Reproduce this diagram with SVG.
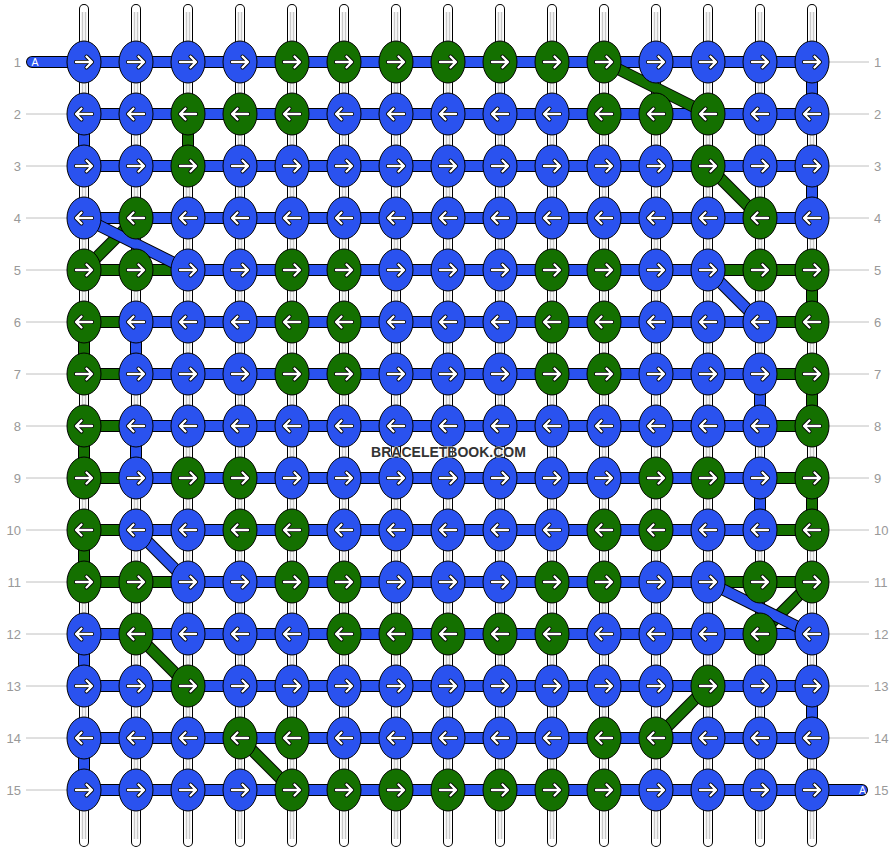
<svg xmlns="http://www.w3.org/2000/svg" width="896" height="852" viewBox="0 0 896 852">
<style>
.b{fill:#2a52ef}.g{fill:#147000}
.k{fill:none;stroke:#000;stroke-width:12}
.cb{fill:none;stroke:#2a52ef;stroke-width:10}
.cg{fill:none;stroke:#147000;stroke-width:10}
.lbl{font-family:"Liberation Sans",Arial,sans-serif;font-size:13px;fill:#999}
.gl{stroke:#c0c0c0;stroke-width:1;fill:none}
</style>
<defs>
<ellipse id="e" rx="17" ry="21" stroke="#000" stroke-width="1"/>
<g id="r" fill="none" stroke-linecap="round" stroke-linejoin="round"><path d="M-8,0H7.5M2.5,-5.5L8,0L2.5,5.5" stroke="#000" stroke-width="4"/><path d="M-8,0H7.5M2.5,-5.5L8,0L2.5,5.5" stroke="#fff" stroke-width="2.4"/></g>
<g id="l"><use href="#r" transform="scale(-1,1)"/></g>
</defs>
<rect width="896" height="852" fill="#fff"/>
<g id="connectors">
<path d="M84,9V842M136,9V842M188,9V842M240,9V842M292,9V842M344,9V842M396,9V842M448,9V842M500,9V842M552,9V842M604,9V842M656,9V842M708,9V842M760,9V842M812,9V842" fill="none" stroke="#000" stroke-width="10" stroke-linecap="round"/>
<path d="M84,9V842M136,9V842M188,9V842M240,9V842M292,9V842M344,9V842M396,9V842M448,9V842M500,9V842M552,9V842M604,9V842M656,9V842M708,9V842M760,9V842M812,9V842" fill="none" stroke="#fff" stroke-width="8" stroke-linecap="round"/>
<path d="M84,12V839M136,12V839M188,12V839M240,12V839M292,12V839M344,12V839M396,12V839M448,12V839M500,12V839M552,12V839M604,12V839M656,12V839M708,12V839M760,12V839M812,12V839" fill="none" stroke="#c8c8c8" stroke-width="4.5"/>
<path d="M84,12V839M136,12V839M188,12V839M240,12V839M292,12V839M344,12V839M396,12V839M448,12V839M500,12V839M552,12V839M604,12V839M656,12V839M708,12V839M760,12V839M812,12V839" fill="none" stroke="#fff" stroke-width="1.5"/>
<path class="k" d="M32,62H84M812,790H862" stroke-linecap="round"/>
<path class="cb" d="M32,62H84M812,790H862" stroke-linecap="round"/>
<path class="k" d="M84,62H812M84,114H812M84,166H812M84,218H812M84,270H812M84,322H812M84,374H812M84,426H812M84,478H812M84,530H812M84,582H812M84,634H812M84,686H812M84,738H812M84,790H812"/>
<path class="cb" d="M84,62H812M84,114H812M84,166H812M84,218H812M84,270H812M84,322H812M84,374H812M84,426H812M84,478H812M84,530H812M84,582H812M84,634H812M84,686H812M84,738H812M84,790H812"/>
<path class="cg" d="M84,270H188M708,270H812M84,322H136M760,322H812M84,374H136M760,374H812M84,426H136M760,426H812M84,478H136M760,478H812M84,530H136M760,530H812M84,582H188M708,582H812"/>
<path class="k" d="M84,114V166M812,62V114M812,166V218M136,322V374M136,426V478M760,374V426M760,478V530M84,634V686M812,686V738M84,738V790"/>
<path class="cb" d="M84,114V166M812,62V114M812,166V218M136,322V374M136,426V478M760,374V426M760,478V530M84,634V686M812,686V738M84,738V790"/>
<path class="k" d="M188,114V166M812,270V322M84,322V374M84,426V478M812,374V426M812,478V530M84,530V582"/>
<path class="cg" d="M188,114V166M812,270V322M84,322V374M84,426V478M812,374V426M812,478V530M84,530V582"/>
<path class="k" d="M604,62L708,114"/><path class="cg" d="M604,62L708,114"/>
<path class="k" d="M708,166L760,218"/><path class="cg" d="M708,166L760,218"/>
<path class="k" d="M136,218L84,270"/><path class="cg" d="M136,218L84,270"/>
<path class="k" d="M136,634L188,686"/><path class="cg" d="M136,634L188,686"/>
<path class="k" d="M812,582L760,634"/><path class="cg" d="M812,582L760,634"/>
<path class="k" d="M708,686L656,738"/><path class="cg" d="M708,686L656,738"/>
<path class="k" d="M240,738L292,790"/><path class="cg" d="M240,738L292,790"/>
<path class="k" d="M84,218L188,270"/><path class="cb" d="M84,218L188,270"/>
<path class="k" d="M708,270L760,322"/><path class="cb" d="M708,270L760,322"/>
<path class="k" d="M136,530L188,582"/><path class="cb" d="M136,530L188,582"/>
<path class="k" d="M708,582L812,634"/><path class="cb" d="M708,582L812,634"/>
</g>
<g id="labels">
<path class="gl" d="M26,114H67M26,166H67M26,218H67M26,270H67M26,322H67M26,374H67M26,426H67M26,478H67M26,530H67M26,582H67M26,634H67M26,686H67M26,738H67M26,790H67M829,62H869M829,114H869M829,166H869M829,218H869M829,270H869M829,322H869M829,374H869M829,426H869M829,478H869M829,530H869M829,582H869M829,634H869M829,686H869M829,738H869"/>
<g class="lbl" text-anchor="end">
<text x="21" y="66.5">1</text><text x="21" y="118.5">2</text><text x="21" y="170.5">3</text><text x="21" y="222.5">4</text><text x="21" y="274.5">5</text><text x="21" y="326.5">6</text><text x="21" y="378.5">7</text><text x="21" y="430.5">8</text><text x="21" y="482.5">9</text><text x="21" y="534.5">10</text><text x="21" y="586.5">11</text><text x="21" y="638.5">12</text><text x="21" y="690.5">13</text><text x="21" y="742.5">14</text><text x="21" y="794.5">15</text>
</g>
<g class="lbl" text-anchor="start">
<text x="874" y="66.5">1</text><text x="874" y="118.5">2</text><text x="874" y="170.5">3</text><text x="874" y="222.5">4</text><text x="874" y="274.5">5</text><text x="874" y="326.5">6</text><text x="874" y="378.5">7</text><text x="874" y="430.5">8</text><text x="874" y="482.5">9</text><text x="874" y="534.5">10</text><text x="874" y="586.5">11</text><text x="874" y="638.5">12</text><text x="874" y="690.5">13</text><text x="874" y="742.5">14</text><text x="874" y="794.5">15</text>
</g>
<text x="35" y="65.7" font-family="Liberation Sans,Arial,sans-serif" font-size="10.5" fill="#fff" text-anchor="middle">A</text>
<text x="862.5" y="794" font-family="Liberation Sans,Arial,sans-serif" font-size="10.5" fill="#fff" text-anchor="middle">A</text>
</g>
<g id="knots">
<g id="n1-1" class="b" transform="translate(84,62)"><use href="#e"/><use href="#r"/></g>
<g id="n1-2" class="b" transform="translate(136,62)"><use href="#e"/><use href="#r"/></g>
<g id="n1-3" class="b" transform="translate(188,62)"><use href="#e"/><use href="#r"/></g>
<g id="n1-4" class="b" transform="translate(240,62)"><use href="#e"/><use href="#r"/></g>
<g id="n1-5" class="g" transform="translate(292,62)"><use href="#e"/><use href="#r"/></g>
<g id="n1-6" class="g" transform="translate(344,62)"><use href="#e"/><use href="#r"/></g>
<g id="n1-7" class="g" transform="translate(396,62)"><use href="#e"/><use href="#r"/></g>
<g id="n1-8" class="g" transform="translate(448,62)"><use href="#e"/><use href="#r"/></g>
<g id="n1-9" class="g" transform="translate(500,62)"><use href="#e"/><use href="#r"/></g>
<g id="n1-10" class="g" transform="translate(552,62)"><use href="#e"/><use href="#r"/></g>
<g id="n1-11" class="g" transform="translate(604,62)"><use href="#e"/><use href="#r"/></g>
<g id="n1-12" class="b" transform="translate(656,62)"><use href="#e"/><use href="#r"/></g>
<g id="n1-13" class="b" transform="translate(708,62)"><use href="#e"/><use href="#r"/></g>
<g id="n1-14" class="b" transform="translate(760,62)"><use href="#e"/><use href="#r"/></g>
<g id="n1-15" class="b" transform="translate(812,62)"><use href="#e"/><use href="#r"/></g>
<g id="n2-1" class="b" transform="translate(84,114)"><use href="#e"/><use href="#l"/></g>
<g id="n2-2" class="b" transform="translate(136,114)"><use href="#e"/><use href="#l"/></g>
<g id="n2-3" class="g" transform="translate(188,114)"><use href="#e"/><use href="#l"/></g>
<g id="n2-4" class="g" transform="translate(240,114)"><use href="#e"/><use href="#l"/></g>
<g id="n2-5" class="g" transform="translate(292,114)"><use href="#e"/><use href="#l"/></g>
<g id="n2-6" class="b" transform="translate(344,114)"><use href="#e"/><use href="#l"/></g>
<g id="n2-7" class="b" transform="translate(396,114)"><use href="#e"/><use href="#l"/></g>
<g id="n2-8" class="b" transform="translate(448,114)"><use href="#e"/><use href="#l"/></g>
<g id="n2-9" class="b" transform="translate(500,114)"><use href="#e"/><use href="#l"/></g>
<g id="n2-10" class="b" transform="translate(552,114)"><use href="#e"/><use href="#l"/></g>
<g id="n2-11" class="g" transform="translate(604,114)"><use href="#e"/><use href="#l"/></g>
<g id="n2-12" class="g" transform="translate(656,114)"><use href="#e"/><use href="#l"/></g>
<g id="n2-13" class="g" transform="translate(708,114)"><use href="#e"/><use href="#l"/></g>
<g id="n2-14" class="b" transform="translate(760,114)"><use href="#e"/><use href="#l"/></g>
<g id="n2-15" class="b" transform="translate(812,114)"><use href="#e"/><use href="#l"/></g>
<g id="n3-1" class="b" transform="translate(84,166)"><use href="#e"/><use href="#r"/></g>
<g id="n3-2" class="b" transform="translate(136,166)"><use href="#e"/><use href="#r"/></g>
<g id="n3-3" class="g" transform="translate(188,166)"><use href="#e"/><use href="#r"/></g>
<g id="n3-4" class="b" transform="translate(240,166)"><use href="#e"/><use href="#r"/></g>
<g id="n3-5" class="b" transform="translate(292,166)"><use href="#e"/><use href="#r"/></g>
<g id="n3-6" class="b" transform="translate(344,166)"><use href="#e"/><use href="#r"/></g>
<g id="n3-7" class="b" transform="translate(396,166)"><use href="#e"/><use href="#r"/></g>
<g id="n3-8" class="b" transform="translate(448,166)"><use href="#e"/><use href="#r"/></g>
<g id="n3-9" class="b" transform="translate(500,166)"><use href="#e"/><use href="#r"/></g>
<g id="n3-10" class="b" transform="translate(552,166)"><use href="#e"/><use href="#r"/></g>
<g id="n3-11" class="b" transform="translate(604,166)"><use href="#e"/><use href="#r"/></g>
<g id="n3-12" class="b" transform="translate(656,166)"><use href="#e"/><use href="#r"/></g>
<g id="n3-13" class="g" transform="translate(708,166)"><use href="#e"/><use href="#r"/></g>
<g id="n3-14" class="b" transform="translate(760,166)"><use href="#e"/><use href="#r"/></g>
<g id="n3-15" class="b" transform="translate(812,166)"><use href="#e"/><use href="#r"/></g>
<g id="n4-1" class="b" transform="translate(84,218)"><use href="#e"/><use href="#l"/></g>
<g id="n4-2" class="g" transform="translate(136,218)"><use href="#e"/><use href="#l"/></g>
<g id="n4-3" class="b" transform="translate(188,218)"><use href="#e"/><use href="#l"/></g>
<g id="n4-4" class="b" transform="translate(240,218)"><use href="#e"/><use href="#l"/></g>
<g id="n4-5" class="b" transform="translate(292,218)"><use href="#e"/><use href="#l"/></g>
<g id="n4-6" class="b" transform="translate(344,218)"><use href="#e"/><use href="#l"/></g>
<g id="n4-7" class="b" transform="translate(396,218)"><use href="#e"/><use href="#l"/></g>
<g id="n4-8" class="b" transform="translate(448,218)"><use href="#e"/><use href="#l"/></g>
<g id="n4-9" class="b" transform="translate(500,218)"><use href="#e"/><use href="#l"/></g>
<g id="n4-10" class="b" transform="translate(552,218)"><use href="#e"/><use href="#l"/></g>
<g id="n4-11" class="b" transform="translate(604,218)"><use href="#e"/><use href="#l"/></g>
<g id="n4-12" class="b" transform="translate(656,218)"><use href="#e"/><use href="#l"/></g>
<g id="n4-13" class="b" transform="translate(708,218)"><use href="#e"/><use href="#l"/></g>
<g id="n4-14" class="g" transform="translate(760,218)"><use href="#e"/><use href="#l"/></g>
<g id="n4-15" class="b" transform="translate(812,218)"><use href="#e"/><use href="#l"/></g>
<g id="n5-1" class="g" transform="translate(84,270)"><use href="#e"/><use href="#r"/></g>
<g id="n5-2" class="g" transform="translate(136,270)"><use href="#e"/><use href="#r"/></g>
<g id="n5-3" class="b" transform="translate(188,270)"><use href="#e"/><use href="#r"/></g>
<g id="n5-4" class="b" transform="translate(240,270)"><use href="#e"/><use href="#r"/></g>
<g id="n5-5" class="g" transform="translate(292,270)"><use href="#e"/><use href="#r"/></g>
<g id="n5-6" class="g" transform="translate(344,270)"><use href="#e"/><use href="#r"/></g>
<g id="n5-7" class="b" transform="translate(396,270)"><use href="#e"/><use href="#r"/></g>
<g id="n5-8" class="b" transform="translate(448,270)"><use href="#e"/><use href="#r"/></g>
<g id="n5-9" class="b" transform="translate(500,270)"><use href="#e"/><use href="#r"/></g>
<g id="n5-10" class="g" transform="translate(552,270)"><use href="#e"/><use href="#r"/></g>
<g id="n5-11" class="g" transform="translate(604,270)"><use href="#e"/><use href="#r"/></g>
<g id="n5-12" class="b" transform="translate(656,270)"><use href="#e"/><use href="#r"/></g>
<g id="n5-13" class="b" transform="translate(708,270)"><use href="#e"/><use href="#r"/></g>
<g id="n5-14" class="g" transform="translate(760,270)"><use href="#e"/><use href="#r"/></g>
<g id="n5-15" class="g" transform="translate(812,270)"><use href="#e"/><use href="#r"/></g>
<g id="n6-1" class="g" transform="translate(84,322)"><use href="#e"/><use href="#l"/></g>
<g id="n6-2" class="b" transform="translate(136,322)"><use href="#e"/><use href="#l"/></g>
<g id="n6-3" class="b" transform="translate(188,322)"><use href="#e"/><use href="#l"/></g>
<g id="n6-4" class="b" transform="translate(240,322)"><use href="#e"/><use href="#l"/></g>
<g id="n6-5" class="g" transform="translate(292,322)"><use href="#e"/><use href="#l"/></g>
<g id="n6-6" class="g" transform="translate(344,322)"><use href="#e"/><use href="#l"/></g>
<g id="n6-7" class="b" transform="translate(396,322)"><use href="#e"/><use href="#l"/></g>
<g id="n6-8" class="b" transform="translate(448,322)"><use href="#e"/><use href="#l"/></g>
<g id="n6-9" class="b" transform="translate(500,322)"><use href="#e"/><use href="#l"/></g>
<g id="n6-10" class="g" transform="translate(552,322)"><use href="#e"/><use href="#l"/></g>
<g id="n6-11" class="g" transform="translate(604,322)"><use href="#e"/><use href="#l"/></g>
<g id="n6-12" class="b" transform="translate(656,322)"><use href="#e"/><use href="#l"/></g>
<g id="n6-13" class="b" transform="translate(708,322)"><use href="#e"/><use href="#l"/></g>
<g id="n6-14" class="b" transform="translate(760,322)"><use href="#e"/><use href="#l"/></g>
<g id="n6-15" class="g" transform="translate(812,322)"><use href="#e"/><use href="#l"/></g>
<g id="n7-1" class="g" transform="translate(84,374)"><use href="#e"/><use href="#r"/></g>
<g id="n7-2" class="b" transform="translate(136,374)"><use href="#e"/><use href="#r"/></g>
<g id="n7-3" class="b" transform="translate(188,374)"><use href="#e"/><use href="#r"/></g>
<g id="n7-4" class="b" transform="translate(240,374)"><use href="#e"/><use href="#r"/></g>
<g id="n7-5" class="g" transform="translate(292,374)"><use href="#e"/><use href="#r"/></g>
<g id="n7-6" class="g" transform="translate(344,374)"><use href="#e"/><use href="#r"/></g>
<g id="n7-7" class="b" transform="translate(396,374)"><use href="#e"/><use href="#r"/></g>
<g id="n7-8" class="b" transform="translate(448,374)"><use href="#e"/><use href="#r"/></g>
<g id="n7-9" class="b" transform="translate(500,374)"><use href="#e"/><use href="#r"/></g>
<g id="n7-10" class="g" transform="translate(552,374)"><use href="#e"/><use href="#r"/></g>
<g id="n7-11" class="g" transform="translate(604,374)"><use href="#e"/><use href="#r"/></g>
<g id="n7-12" class="b" transform="translate(656,374)"><use href="#e"/><use href="#r"/></g>
<g id="n7-13" class="b" transform="translate(708,374)"><use href="#e"/><use href="#r"/></g>
<g id="n7-14" class="b" transform="translate(760,374)"><use href="#e"/><use href="#r"/></g>
<g id="n7-15" class="g" transform="translate(812,374)"><use href="#e"/><use href="#r"/></g>
<g id="n8-1" class="g" transform="translate(84,426)"><use href="#e"/><use href="#l"/></g>
<g id="n8-2" class="b" transform="translate(136,426)"><use href="#e"/><use href="#l"/></g>
<g id="n8-3" class="b" transform="translate(188,426)"><use href="#e"/><use href="#l"/></g>
<g id="n8-4" class="b" transform="translate(240,426)"><use href="#e"/><use href="#l"/></g>
<g id="n8-5" class="b" transform="translate(292,426)"><use href="#e"/><use href="#l"/></g>
<g id="n8-6" class="b" transform="translate(344,426)"><use href="#e"/><use href="#l"/></g>
<g id="n8-7" class="b" transform="translate(396,426)"><use href="#e"/><use href="#l"/></g>
<g id="n8-8" class="b" transform="translate(448,426)"><use href="#e"/><use href="#l"/></g>
<g id="n8-9" class="b" transform="translate(500,426)"><use href="#e"/><use href="#l"/></g>
<g id="n8-10" class="b" transform="translate(552,426)"><use href="#e"/><use href="#l"/></g>
<g id="n8-11" class="b" transform="translate(604,426)"><use href="#e"/><use href="#l"/></g>
<g id="n8-12" class="b" transform="translate(656,426)"><use href="#e"/><use href="#l"/></g>
<g id="n8-13" class="b" transform="translate(708,426)"><use href="#e"/><use href="#l"/></g>
<g id="n8-14" class="b" transform="translate(760,426)"><use href="#e"/><use href="#l"/></g>
<g id="n8-15" class="g" transform="translate(812,426)"><use href="#e"/><use href="#l"/></g>
<g id="n9-1" class="g" transform="translate(84,478)"><use href="#e"/><use href="#r"/></g>
<g id="n9-2" class="b" transform="translate(136,478)"><use href="#e"/><use href="#r"/></g>
<g id="n9-3" class="g" transform="translate(188,478)"><use href="#e"/><use href="#r"/></g>
<g id="n9-4" class="g" transform="translate(240,478)"><use href="#e"/><use href="#r"/></g>
<g id="n9-5" class="b" transform="translate(292,478)"><use href="#e"/><use href="#r"/></g>
<g id="n9-6" class="b" transform="translate(344,478)"><use href="#e"/><use href="#r"/></g>
<g id="n9-7" class="b" transform="translate(396,478)"><use href="#e"/><use href="#r"/></g>
<g id="n9-8" class="b" transform="translate(448,478)"><use href="#e"/><use href="#r"/></g>
<g id="n9-9" class="b" transform="translate(500,478)"><use href="#e"/><use href="#r"/></g>
<g id="n9-10" class="b" transform="translate(552,478)"><use href="#e"/><use href="#r"/></g>
<g id="n9-11" class="b" transform="translate(604,478)"><use href="#e"/><use href="#r"/></g>
<g id="n9-12" class="g" transform="translate(656,478)"><use href="#e"/><use href="#r"/></g>
<g id="n9-13" class="g" transform="translate(708,478)"><use href="#e"/><use href="#r"/></g>
<g id="n9-14" class="b" transform="translate(760,478)"><use href="#e"/><use href="#r"/></g>
<g id="n9-15" class="g" transform="translate(812,478)"><use href="#e"/><use href="#r"/></g>
<g id="n10-1" class="g" transform="translate(84,530)"><use href="#e"/><use href="#l"/></g>
<g id="n10-2" class="b" transform="translate(136,530)"><use href="#e"/><use href="#l"/></g>
<g id="n10-3" class="b" transform="translate(188,530)"><use href="#e"/><use href="#l"/></g>
<g id="n10-4" class="g" transform="translate(240,530)"><use href="#e"/><use href="#l"/></g>
<g id="n10-5" class="g" transform="translate(292,530)"><use href="#e"/><use href="#l"/></g>
<g id="n10-6" class="b" transform="translate(344,530)"><use href="#e"/><use href="#l"/></g>
<g id="n10-7" class="b" transform="translate(396,530)"><use href="#e"/><use href="#l"/></g>
<g id="n10-8" class="b" transform="translate(448,530)"><use href="#e"/><use href="#l"/></g>
<g id="n10-9" class="b" transform="translate(500,530)"><use href="#e"/><use href="#l"/></g>
<g id="n10-10" class="b" transform="translate(552,530)"><use href="#e"/><use href="#l"/></g>
<g id="n10-11" class="g" transform="translate(604,530)"><use href="#e"/><use href="#l"/></g>
<g id="n10-12" class="g" transform="translate(656,530)"><use href="#e"/><use href="#l"/></g>
<g id="n10-13" class="b" transform="translate(708,530)"><use href="#e"/><use href="#l"/></g>
<g id="n10-14" class="b" transform="translate(760,530)"><use href="#e"/><use href="#l"/></g>
<g id="n10-15" class="g" transform="translate(812,530)"><use href="#e"/><use href="#l"/></g>
<g id="n11-1" class="g" transform="translate(84,582)"><use href="#e"/><use href="#r"/></g>
<g id="n11-2" class="g" transform="translate(136,582)"><use href="#e"/><use href="#r"/></g>
<g id="n11-3" class="b" transform="translate(188,582)"><use href="#e"/><use href="#r"/></g>
<g id="n11-4" class="b" transform="translate(240,582)"><use href="#e"/><use href="#r"/></g>
<g id="n11-5" class="g" transform="translate(292,582)"><use href="#e"/><use href="#r"/></g>
<g id="n11-6" class="g" transform="translate(344,582)"><use href="#e"/><use href="#r"/></g>
<g id="n11-7" class="b" transform="translate(396,582)"><use href="#e"/><use href="#r"/></g>
<g id="n11-8" class="b" transform="translate(448,582)"><use href="#e"/><use href="#r"/></g>
<g id="n11-9" class="b" transform="translate(500,582)"><use href="#e"/><use href="#r"/></g>
<g id="n11-10" class="g" transform="translate(552,582)"><use href="#e"/><use href="#r"/></g>
<g id="n11-11" class="g" transform="translate(604,582)"><use href="#e"/><use href="#r"/></g>
<g id="n11-12" class="b" transform="translate(656,582)"><use href="#e"/><use href="#r"/></g>
<g id="n11-13" class="b" transform="translate(708,582)"><use href="#e"/><use href="#r"/></g>
<g id="n11-14" class="g" transform="translate(760,582)"><use href="#e"/><use href="#r"/></g>
<g id="n11-15" class="g" transform="translate(812,582)"><use href="#e"/><use href="#r"/></g>
<g id="n12-1" class="b" transform="translate(84,634)"><use href="#e"/><use href="#l"/></g>
<g id="n12-2" class="g" transform="translate(136,634)"><use href="#e"/><use href="#l"/></g>
<g id="n12-3" class="b" transform="translate(188,634)"><use href="#e"/><use href="#l"/></g>
<g id="n12-4" class="b" transform="translate(240,634)"><use href="#e"/><use href="#l"/></g>
<g id="n12-5" class="b" transform="translate(292,634)"><use href="#e"/><use href="#l"/></g>
<g id="n12-6" class="g" transform="translate(344,634)"><use href="#e"/><use href="#l"/></g>
<g id="n12-7" class="g" transform="translate(396,634)"><use href="#e"/><use href="#l"/></g>
<g id="n12-8" class="g" transform="translate(448,634)"><use href="#e"/><use href="#l"/></g>
<g id="n12-9" class="g" transform="translate(500,634)"><use href="#e"/><use href="#l"/></g>
<g id="n12-10" class="g" transform="translate(552,634)"><use href="#e"/><use href="#l"/></g>
<g id="n12-11" class="b" transform="translate(604,634)"><use href="#e"/><use href="#l"/></g>
<g id="n12-12" class="b" transform="translate(656,634)"><use href="#e"/><use href="#l"/></g>
<g id="n12-13" class="b" transform="translate(708,634)"><use href="#e"/><use href="#l"/></g>
<g id="n12-14" class="g" transform="translate(760,634)"><use href="#e"/><use href="#l"/></g>
<g id="n12-15" class="b" transform="translate(812,634)"><use href="#e"/><use href="#l"/></g>
<g id="n13-1" class="b" transform="translate(84,686)"><use href="#e"/><use href="#r"/></g>
<g id="n13-2" class="b" transform="translate(136,686)"><use href="#e"/><use href="#r"/></g>
<g id="n13-3" class="g" transform="translate(188,686)"><use href="#e"/><use href="#r"/></g>
<g id="n13-4" class="b" transform="translate(240,686)"><use href="#e"/><use href="#r"/></g>
<g id="n13-5" class="b" transform="translate(292,686)"><use href="#e"/><use href="#r"/></g>
<g id="n13-6" class="b" transform="translate(344,686)"><use href="#e"/><use href="#r"/></g>
<g id="n13-7" class="b" transform="translate(396,686)"><use href="#e"/><use href="#r"/></g>
<g id="n13-8" class="b" transform="translate(448,686)"><use href="#e"/><use href="#r"/></g>
<g id="n13-9" class="b" transform="translate(500,686)"><use href="#e"/><use href="#r"/></g>
<g id="n13-10" class="b" transform="translate(552,686)"><use href="#e"/><use href="#r"/></g>
<g id="n13-11" class="b" transform="translate(604,686)"><use href="#e"/><use href="#r"/></g>
<g id="n13-12" class="b" transform="translate(656,686)"><use href="#e"/><use href="#r"/></g>
<g id="n13-13" class="g" transform="translate(708,686)"><use href="#e"/><use href="#r"/></g>
<g id="n13-14" class="b" transform="translate(760,686)"><use href="#e"/><use href="#r"/></g>
<g id="n13-15" class="b" transform="translate(812,686)"><use href="#e"/><use href="#r"/></g>
<g id="n14-1" class="b" transform="translate(84,738)"><use href="#e"/><use href="#l"/></g>
<g id="n14-2" class="b" transform="translate(136,738)"><use href="#e"/><use href="#l"/></g>
<g id="n14-3" class="b" transform="translate(188,738)"><use href="#e"/><use href="#l"/></g>
<g id="n14-4" class="g" transform="translate(240,738)"><use href="#e"/><use href="#l"/></g>
<g id="n14-5" class="g" transform="translate(292,738)"><use href="#e"/><use href="#l"/></g>
<g id="n14-6" class="b" transform="translate(344,738)"><use href="#e"/><use href="#l"/></g>
<g id="n14-7" class="b" transform="translate(396,738)"><use href="#e"/><use href="#l"/></g>
<g id="n14-8" class="b" transform="translate(448,738)"><use href="#e"/><use href="#l"/></g>
<g id="n14-9" class="b" transform="translate(500,738)"><use href="#e"/><use href="#l"/></g>
<g id="n14-10" class="b" transform="translate(552,738)"><use href="#e"/><use href="#l"/></g>
<g id="n14-11" class="g" transform="translate(604,738)"><use href="#e"/><use href="#l"/></g>
<g id="n14-12" class="g" transform="translate(656,738)"><use href="#e"/><use href="#l"/></g>
<g id="n14-13" class="b" transform="translate(708,738)"><use href="#e"/><use href="#l"/></g>
<g id="n14-14" class="b" transform="translate(760,738)"><use href="#e"/><use href="#l"/></g>
<g id="n14-15" class="b" transform="translate(812,738)"><use href="#e"/><use href="#l"/></g>
<g id="n15-1" class="b" transform="translate(84,790)"><use href="#e"/><use href="#r"/></g>
<g id="n15-2" class="b" transform="translate(136,790)"><use href="#e"/><use href="#r"/></g>
<g id="n15-3" class="b" transform="translate(188,790)"><use href="#e"/><use href="#r"/></g>
<g id="n15-4" class="b" transform="translate(240,790)"><use href="#e"/><use href="#r"/></g>
<g id="n15-5" class="g" transform="translate(292,790)"><use href="#e"/><use href="#r"/></g>
<g id="n15-6" class="g" transform="translate(344,790)"><use href="#e"/><use href="#r"/></g>
<g id="n15-7" class="g" transform="translate(396,790)"><use href="#e"/><use href="#r"/></g>
<g id="n15-8" class="g" transform="translate(448,790)"><use href="#e"/><use href="#r"/></g>
<g id="n15-9" class="g" transform="translate(500,790)"><use href="#e"/><use href="#r"/></g>
<g id="n15-10" class="g" transform="translate(552,790)"><use href="#e"/><use href="#r"/></g>
<g id="n15-11" class="g" transform="translate(604,790)"><use href="#e"/><use href="#r"/></g>
<g id="n15-12" class="b" transform="translate(656,790)"><use href="#e"/><use href="#r"/></g>
<g id="n15-13" class="b" transform="translate(708,790)"><use href="#e"/><use href="#r"/></g>
<g id="n15-14" class="b" transform="translate(760,790)"><use href="#e"/><use href="#r"/></g>
<g id="n15-15" class="b" transform="translate(812,790)"><use href="#e"/><use href="#r"/></g>
</g>
<text x="448.5" y="456.5" font-family="Liberation Sans,Arial,sans-serif" font-size="14" font-weight="bold" text-anchor="middle" fill="#333" stroke="#fff" stroke-width="1.5" stroke-opacity="0.6" paint-order="stroke">BRACELETBOOK.COM</text>
</svg>
